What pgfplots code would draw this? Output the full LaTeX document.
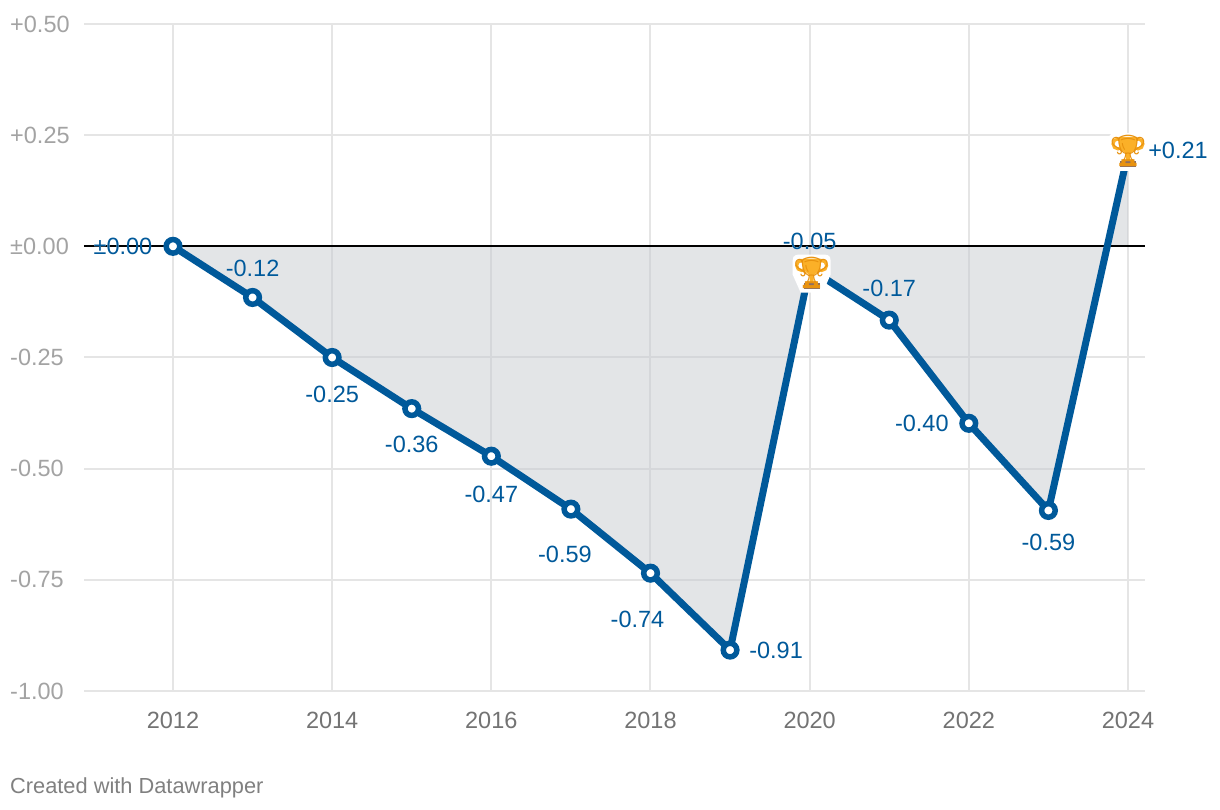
\documentclass[border=0pt]{standalone}
\usepackage{fontspec}
\setmainfont{Liberation Sans}
\newfontfamily\emoji{Noto Emoji}
\usepackage[outline]{contour}
\usepackage{pgfplots}
\pgfplotsset{compat=1.18}
\definecolor{dwblue}{HTML}{00599A}
\definecolor{trophy}{HTML}{FBB028}
\definecolor{trophydark}{HTML}{E8920F}
\definecolor{trophybase}{HTML}{8D6E63}
\definecolor{shade}{HTML}{C7CBD0}
\contourlength{2pt}
% trophy drawn as a plot mark, origin at the centre of the emoji
\pgfdeclareplotmark{cup}{%
  \pgfsetfillcolor{white}%
  \pgfpathmoveto{\pgfpoint{-19pt}{-2pt}}%
  \pgfpathlineto{\pgfpoint{-19pt}{12pt}}%
  \pgfpathcurveto{\pgfpoint{-19pt}{18pt}}{\pgfpoint{-15pt}{18pt}}{\pgfpoint{-10pt}{18pt}}%
  \pgfpathlineto{\pgfpoint{10pt}{18pt}}%
  \pgfpathcurveto{\pgfpoint{15pt}{18pt}}{\pgfpoint{19pt}{18pt}}{\pgfpoint{19pt}{12pt}}%
  \pgfpathlineto{\pgfpoint{19pt}{-2pt}}%
  \pgfpathlineto{\pgfpoint{11pt}{-20pt}}%
  \pgfpathlineto{\pgfpoint{-11pt}{-20pt}}%
  \pgfpathclose
  \pgfusepathqfill
  \pgfsetstrokecolor{trophy}%
  \pgfsetlinewidth{3pt}%
  \pgfpathellipse{\pgfpoint{-10pt}{7pt}}{\pgfpoint{5pt}{0pt}}{\pgfpoint{0pt}{5pt}}%
  \pgfpathellipse{\pgfpoint{10pt}{7pt}}{\pgfpoint{5pt}{0pt}}{\pgfpoint{0pt}{5pt}}%
  \pgfusepathqstroke
  \pgfsetfillcolor{trophy}%
  \pgfpathmoveto{\pgfpoint{-9pt}{14pt}}%
  \pgfpathlineto{\pgfpoint{9pt}{14pt}}%
  \pgfpathlineto{\pgfpoint{9pt}{7pt}}%
  \pgfpathcurveto{\pgfpoint{9pt}{1pt}}{\pgfpoint{3pt}{-1pt}}{\pgfpoint{2pt}{-3pt}}%
  \pgfpathlineto{\pgfpoint{2pt}{-11pt}}%
  \pgfpathlineto{\pgfpoint{-2pt}{-11pt}}%
  \pgfpathlineto{\pgfpoint{-2pt}{-3pt}}%
  \pgfpathcurveto{\pgfpoint{-3pt}{-1pt}}{\pgfpoint{-9pt}{1pt}}{\pgfpoint{-9pt}{7pt}}%
  \pgfpathclose
  \pgfusepathqfill
  \pgfsetfillcolor{trophybase}%
  \pgfpathrectangle{\pgfpoint{-8pt}{-16pt}}{\pgfpoint{16pt}{6pt}}%
  \pgfusepathqfill
}
\newcommand{\lab}[4]{\node[inner sep=0pt,xshift=#2pt,yshift=#3pt,font=\fontsize{23.5}{28}\selectfont] at (axis cs:#1) {\contour{white}{\textcolor{dwblue}{#4}}};}
\begin{document}
\begin{tikzpicture}
\begin{axis}[
scale only axis,
width=1061pt,height=667pt,
xmin=2010.882,xmax=2024.214,
ymin=-1,ymax=0.5,
clip=false,
axis line style={draw=none},
major tick style={draw=none},
xtick={2012,2014,2016,2018,2020,2022,2024},
xticklabels={2012,2014,2016,2018,2020,2022,2024},
ytick={-1,-0.75,-0.5,-0.25,0,0.25,0.5},
yticklabels={-1.00,-0.75,-0.50,-0.25,±0.00,+0.25,+0.50},
grid=major,
major grid style={draw=black!10,line width=2pt},
tick label style={font=\fontsize{23.5}{28}\selectfont},
xticklabel style={text=black!55,inner sep=0pt,anchor=center,yshift=-29pt},
yticklabel style={text=black!36,inner sep=0pt,anchor=west,xshift=-74pt},
]
\addplot[fill=shade,fill opacity=0.5,draw=none] coordinates {
(2012,0)(2013,-0.115)(2014,-0.25)(2015,-0.365)(2016,-0.472)(2017,-0.591)(2018,-0.735)(2019,-0.908)(2020,-0.05)(2021,-0.166)(2022,-0.398)(2023,-0.594)(2024,0.21)(2024,0)
} --cycle;
\addplot[black,line width=2pt] coordinates {(2010.882,0)(2024.214,0)};
\addplot[dwblue,line width=7pt,line join=round] coordinates {
(2012,0)(2013,-0.115)(2014,-0.25)(2015,-0.365)(2016,-0.472)(2017,-0.591)(2018,-0.735)(2019,-0.908)(2020,-0.05)(2021,-0.166)(2022,-0.398)(2023,-0.594)(2024,0.21)
};
\addplot[only marks,mark=*,mark size=6.8pt,mark options={draw=dwblue,fill=white,line width=5.5pt}] coordinates {
(2012,0)(2013,-0.115)(2014,-0.25)(2015,-0.365)(2016,-0.472)(2017,-0.591)(2018,-0.735)(2019,-0.908)(2021,-0.166)(2022,-0.398)(2023,-0.594)
};
\addplot[only marks,mark=cup] coordinates {(2020.025,-0.059)(2024,0.2145)};
\addplot[only marks,mark=text,text mark={🏆},text mark as node=true,
  text mark style={font=\fontsize{31}{31}\emoji,text=trophydark,inner sep=0pt,anchor=center}]
  coordinates {(2020.025,-0.059)(2024,0.2145)};
\lab{2012,0}{-50}{0}{±0.00}
\lab{2013,-0.115}{0}{29}{-0.12}
\lab{2014,-0.25}{0}{-37}{-0.25}
\lab{2015,-0.365}{0}{-36}{-0.36}
\lab{2016,-0.472}{0}{-38}{-0.47}
\lab{2017,-0.591}{-6}{-45}{-0.59}
\lab{2018,-0.735}{-13}{-46}{-0.74}
\lab{2019,-0.908}{46}{0}{-0.91}
\lab{2020,-0.05}{0}{27}{-0.05}
\lab{2021,-0.166}{0}{32}{-0.17}
\lab{2022,-0.398}{-47}{0}{-0.40}
\lab{2023,-0.594}{0}{-32}{-0.59}
\lab{2024,0.21}{50}{3}{+0.21}
\node[anchor=base west,inner sep=0pt,text=black!50,font=\fontsize{21.8}{24}\selectfont] at ([xshift=-74pt,yshift=-103pt]rel axis cs:0,0) {Created with Datawrapper};
\path ([xshift=-84pt,yshift=24pt]rel axis cs:0,1) rectangle ++(1220pt,-810pt);
\end{axis}
\end{tikzpicture}
\end{document}
